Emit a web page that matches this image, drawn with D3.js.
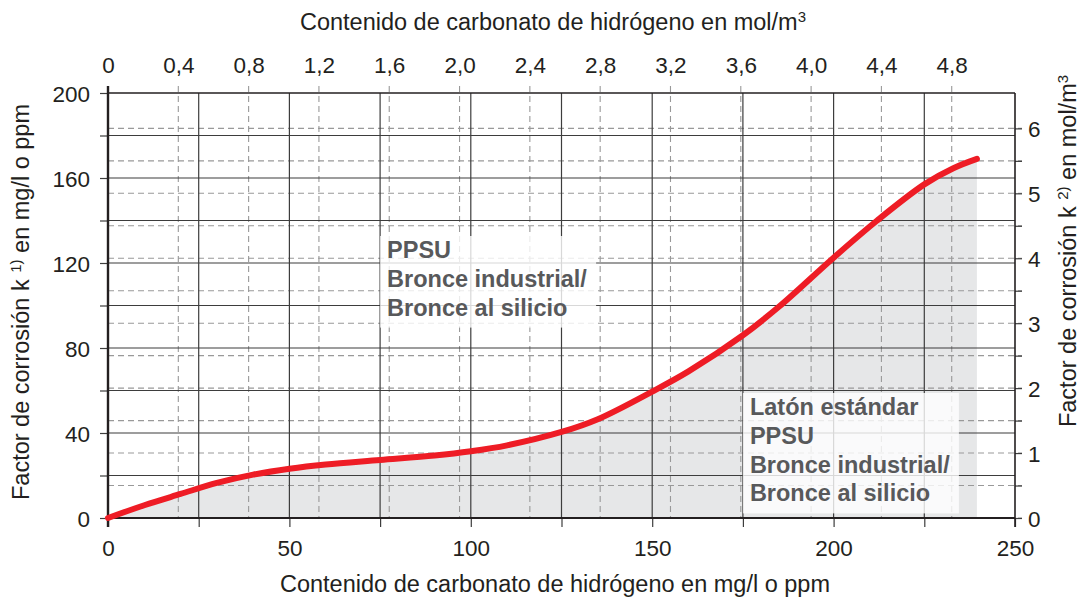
<!DOCTYPE html>
<html>
<head>
<meta charset="utf-8">
<script src="https://cdn.jsdelivr.net/npm/d3@7"></script>
<style>
  body { margin: 0; background: #fff; }
  svg text { font-family: "Liberation Sans", Arial, sans-serif; fill: #231f20; }
  .tick text { font-size: 22.5px; }
  .title { font-size: 23.5px; }
  .boxlabel { font-size: 23.5px; font-weight: bold; fill: #58595b; }
</style>
</head>
<body>
<div id="chart"></div>
<script>
// curve: hydrogen carbonate (mg/l) -> corrosion factor k (mg/l)
var hco3 = [0, 10, 20, 30, 40, 50, 60, 75, 90, 100, 110, 125, 135, 150, 160, 175, 185, 200, 212, 225, 233, 239.5];
var kFactor = [0, 6, 11.3, 16.5, 20.4, 23.2, 25.2, 27.3, 29.4, 31.4, 34.2, 40.5, 46.5, 59.5, 69, 86, 99.5, 122.5, 140, 157, 164.6, 169];

// axis ticks
var bottomTicks = [0, 50, 100, 150, 200, 250];
var bottomMinor = [0, 25, 50, 75, 100, 125, 150, 175, 200, 225, 250];
var topTicks = [0, 0.4, 0.8, 1.2, 1.6, 2.0, 2.4, 2.8, 3.2, 3.6, 4.0, 4.4, 4.8];
var leftTicks = [0, 40, 80, 120, 160, 200];
var leftMinor = [0, 20, 40, 60, 80, 100, 120, 140, 160, 180, 200];
var rightTicks = [0, 1, 2, 3, 4, 5, 6];
var rightMinor = [0, 0.5, 1, 1.5, 2, 2.5, 3, 3.5, 4, 4.5, 5, 5.5, 6];

// labels
var boxA = ["PPSU", "Bronce industrial/", "Bronce al silicio"];
var boxB = ["Latón estándar", "PPSU", "Bronce industrial/", "Bronce al silicio"];

// unit conversions as drawn on the chart
var topMax = 5.16;   // mol/m3 at 250 mg/l
var rightMax = 6.545; // mol/m3 at 200 mg/l

function chart() {
  var W = 1082, H = 601;
  var left = 108, right = 1015, top = 93, bottom = 518;

  var svg = d3.select("#chart").append("svg")
    .attr("width", W).attr("height", H);

  var x = d3.scaleLinear().domain([0, 250]).range([left, right]);
  var xTop = d3.scaleLinear().domain([0, topMax]).range([left, right]);
  var y = d3.scaleLinear().domain([0, 200]).range([bottom, top]);
  var yRight = d3.scaleLinear().domain([0, rightMax]).range([bottom, top]);

  var pts = hco3.map(function(d, i) { return [d, kFactor[i]]; });
  var smooth = d3.curveCatmullRom.alpha(0.5);

  // grey fill under curve
  svg.append("path")
    .datum(pts)
    .attr("fill", "#e6e7e8")
    .attr("d", d3.area()
      .x(function(d) { return x(d[0]); })
      .y0(y(0))
      .y1(function(d) { return y(d[1]); })
      .curve(smooth));

  // dashed grid (mol/m3)
  var dash = svg.append("g")
    .attr("stroke", "#999")
    .attr("stroke-width", 1.1)
    .attr("stroke-dasharray", "6,4");

  dash.selectAll("line.v")
    .data(topTicks.slice(1))
    .enter().append("line")
    .attr("class", "v")
    .attr("x1", function(d) { return xTop(d); })
    .attr("x2", function(d) { return xTop(d); })
    .attr("y1", top - 7).attr("y2", bottom);

  dash.selectAll("line.h")
    .data(rightMinor)
    .enter().append("line")
    .attr("class", "h")
    .attr("x1", left).attr("x2", right + 7)
    .attr("y1", function(d) { return yRight(d); })
    .attr("y2", function(d) { return yRight(d); });

  // solid grid (mg/l)
  var solid = svg.append("g")
    .attr("stroke", "#3d3d3d")
    .attr("stroke-width", 1.2);

  solid.selectAll("line.v")
    .data(bottomMinor.slice(1, -1))
    .enter().append("line")
    .attr("class", "v")
    .attr("x1", function(d) { return x(d); })
    .attr("x2", function(d) { return x(d); })
    .attr("y1", top).attr("y2", bottom);

  solid.selectAll("line.h")
    .data(leftMinor.slice(1, -1))
    .enter().append("line")
    .attr("class", "h")
    .attr("x1", left).attr("x2", right)
    .attr("y1", function(d) { return y(d); })
    .attr("y2", function(d) { return y(d); });

  // axes
  var fmtTop = function(d) { return d === 0 ? "0" : d3.format(".1f")(d).replace(".", ","); };

  var gBottom = svg.append("g")
    .attr("transform", "translate(0," + bottom + ")")
    .call(d3.axisBottom(x).tickValues(bottomMinor).tickSize(9)
      .tickFormat(function(d) { return bottomTicks.indexOf(d) >= 0 ? d : ""; }));
  gBottom.selectAll("text").attr("y", 38).attr("dy", null);

  var gTop = svg.append("g")
    .attr("transform", "translate(0," + top + ")")
    .call(d3.axisTop(xTop).tickValues(topTicks).tickSize(0).tickFormat(fmtTop));
  gTop.selectAll("text").attr("y", -20.5).attr("dy", null);

  var gLeft = svg.append("g")
    .attr("transform", "translate(" + left + ",0)")
    .call(d3.axisLeft(y).tickValues(leftMinor).tickSize(8)
      .tickFormat(function(d) { return leftTicks.indexOf(d) >= 0 ? d : ""; }));
  gLeft.selectAll("text").attr("x", -18).attr("dy", "0.36em");

  var gRight = svg.append("g")
    .attr("transform", "translate(" + right + ",0)")
    .call(d3.axisRight(yRight).tickValues(rightMinor).tickSize(7)
      .tickFormat(function(d) { return rightTicks.indexOf(d) >= 0 ? d : ""; }));
  gRight.selectAll("text").attr("x", 13).attr("dy", "0.36em");

  [gBottom, gTop, gLeft, gRight].forEach(function(g) {
    g.attr("font-size", null).attr("font-family", null);
    g.select(".domain").remove();
    g.selectAll(".tick line").attr("stroke", "#3d3d3d").attr("stroke-width", 1.2);
  });
  gTop.selectAll(".tick line").remove();

  // frame
  var frame = svg.append("g").attr("stroke", "#231f20").attr("fill", "none");
  frame.append("line").attr("x1", left).attr("x2", right).attr("y1", top).attr("y2", top).attr("stroke-width", 1.6);
  frame.append("line").attr("x1", left).attr("x2", right).attr("y1", bottom).attr("y2", bottom).attr("stroke-width", 2);
  frame.append("line").attr("x1", left).attr("x2", left).attr("y1", top - 7).attr("y2", bottom + 9).attr("stroke-width", 2.4);
  frame.append("line").attr("x1", right).attr("x2", right).attr("y1", top).attr("y2", bottom + 9).attr("stroke-width", 1.6);

  // label boxes
  function labelBox(lines, bx, by) {
    var g = svg.append("g").attr("transform", "translate(" + bx + "," + by + ")");
    g.append("rect")
      .attr("width", 216)
      .attr("height", 22 + (lines.length - 1) * 28.8 + 12)
      .attr("fill", "#fff")
      .attr("fill-opacity", 0.8);
    g.selectAll("text")
      .data(lines)
      .enter().append("text")
      .attr("class", "boxlabel")
      .attr("x", 7)
      .attr("y", function(d, i) { return 22 + i * 28.8; })
      .text(function(d) { return d; });
  }
  labelBox(boxA, x(75), 236);
  labelBox(boxB, x(175), 393);

  // red curve
  svg.append("path")
    .datum(pts)
    .attr("fill", "none")
    .attr("stroke", "#ee1c25")
    .attr("stroke-width", 6)
    .attr("stroke-linecap", "round")
    .attr("d", d3.line()
      .x(function(d) { return x(d[0]); })
      .y(function(d) { return y(d[1]); })
      .curve(smooth));

  // titles
  var t1 = svg.append("text").attr("class", "title")
    .attr("x", 553).attr("y", 30).attr("text-anchor", "middle");
  t1.append("tspan").text("Contenido de carbonato de hidrógeno en mol/m");
  t1.append("tspan").attr("dy", -8).attr("font-size", 15).text("3");

  svg.append("text").attr("class", "title")
    .attr("x", 555).attr("y", 592).attr("text-anchor", "middle")
    .text("Contenido de carbonato de hidrógeno en mg/l o ppm");

  var t3 = svg.append("text").attr("class", "title")
    .attr("transform", "translate(29,302) rotate(-90)")
    .attr("text-anchor", "middle");
  t3.append("tspan").text("Factor de corrosión k ");
  t3.append("tspan").attr("dy", -8).attr("font-size", 15).text("1)");
  t3.append("tspan").attr("dy", 8).text(" en mg/l o ppm");

  var t4 = svg.append("text").attr("class", "title")
    .attr("transform", "translate(1076,251) rotate(-90)")
    .attr("text-anchor", "middle");
  t4.append("tspan").text("Factor de corrosión k ");
  t4.append("tspan").attr("dy", -8).attr("font-size", 15).text("2)");
  t4.append("tspan").attr("dy", 8).text(" en mol/m");
  t4.append("tspan").attr("dy", -8).attr("font-size", 15).text("3");
}
chart();
</script>
</body>
</html>
